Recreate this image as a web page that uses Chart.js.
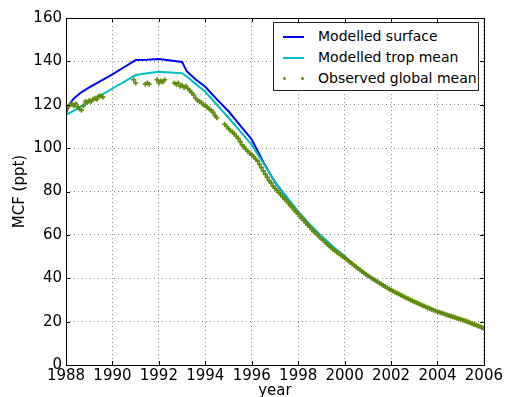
<!DOCTYPE html>
<html>
<head>
<meta charset="utf-8">
<script src="https://cdn.jsdelivr.net/npm/chart.js@4"></script>
<style>
  html, body { margin: 0; padding: 0; background: #fff; }
  #wrap { position: relative; width: 505px; height: 397px; font-family: "DejaVu Sans", sans-serif; }
  #legend { position: absolute; left: 273px; top: 22px; width: 204px; height: 67px; border: 1px solid #222; background: #fff; }
  .row { position: absolute; left: 0; height: 20px; width: 204px; }
  .sw { position: absolute; left: 9px; top: 9px; width: 21px; height: 2px; }
  .dot { position: absolute; top: 8px; width: 3px; height: 3px; border-radius: 50%; background: #5f8a0a; }
  .txt { position: absolute; left: 44px; top: 1px; font-size: 14px; color: #000; white-space: nowrap; }
</style>
</head>
<body>
<div id="wrap">
  <canvas id="chart" width="505" height="397"></canvas>
  <div id="legend">
    <div class="row" style="top:4px"><div class="sw" style="background:#0000ff"></div><div class="txt">Modelled surface</div></div>
    <div class="row" style="top:25px"><div class="sw" style="background:#00bfbf"></div><div class="txt">Modelled trop mean</div></div>
    <div class="row" style="top:46px"><div class="dot" style="left:9px"></div><div class="dot" style="left:27px"></div><div class="txt">Observed global mean</div></div>
  </div>
</div>
<script>
// model output (decimal years)
const modelYears = [1988, 1988.1, 1988.3, 1988.6, 1989, 1989.5, 1990, 1990.5, 1991, 1991.5, 1992, 1992.5,
  1993, 1993.2, 1993.6, 1994, 1994.5, 1995, 1995.5, 1996, 1996.5, 1997, 1997.5, 1998, 1998.5, 1999, 1999.5,
  2000, 2000.5, 2001, 2001.5, 2002, 2002.5, 2003, 2003.5, 2004, 2004.5, 2005, 2005.5, 2006];
const surfaceValues = [115.8, 119.5, 122.5, 125.3, 128, 131, 134, 137.3, 140.6, 140.7, 141.1, 140.4,
  139.7, 135.5, 131.5, 128.3, 122.5, 117, 110.5, 104, 93.5, 84.3, 77.3, 70.6, 64.6, 59.3, 54.3,
  50, 45.3, 41.1, 37.7, 34.6, 31.8, 29.2, 26.8, 24.6, 22.7, 21, 18.8, 16.7];
const tropValues = [115.3, 115.9, 117.1, 118.9, 121.3, 124.3, 127.5, 130.6, 133.7, 134.5, 135.2, 134.9,
  134.5, 133, 129.5, 126, 120, 114, 107.8, 101.5, 93, 84.5, 77.5, 70.8, 64.8, 59.5, 54.5,
  50.1, 45.4, 41.2, 37.8, 34.7, 31.9, 29.3, 26.9, 24.7, 22.8, 21.1, 18.9, 16.8];

// observations: month index counted from Jan 1988, value in ppt
const obsMonths = [
  0, 1, 2, 3, 4, 5, 6, 7, 8, 9, 10, 11, 12, 13, 14, 15, 16, 17, 18, 19,
  35, 36, 41, 42, 43, 47, 48, 49, 50, 51,
  56, 57, 58, 59, 60, 61, 62, 63, 64, 65, 66, 67, 68, 69, 70, 71, 72, 73, 74, 75, 76, 77, 78,
  82, 83, 84, 85, 86, 87, 88, 89, 90, 91, 92, 93, 94, 95, 96, 97, 98, 99, 100, 101, 102, 103, 104, 105, 106, 107,
  108, 109, 110, 111, 112, 113, 114, 115, 116, 117, 118, 119,
  120, 121, 122, 123, 124, 125, 126, 127, 128, 129, 130, 131,
  132, 133, 134, 135, 136, 137, 138, 139, 140, 141, 142, 143,
  144, 145, 146, 147, 148, 149, 150, 151, 152, 153, 154, 155,
  156, 157, 158, 159, 160, 161, 162, 163, 164, 165, 166, 167,
  168, 169, 170, 171, 172, 173, 174, 175, 176, 177, 178, 179,
  180, 181, 182, 183, 184, 185, 186, 187, 188, 189, 190, 191,
  192, 193, 194, 195, 196, 197, 198, 199, 200, 201, 202, 203,
  204, 205, 206, 207, 208, 209, 210, 211, 212, 213, 214, 215, 216];
const obsValues = [
  117.5, 119, 120, 120.5, 119.5, 120.5, 119, 118, 117.5, 119.5, 121.5, 121, 122, 121.5, 122.5, 123, 122.5, 124, 124, 123.5,
  131.5, 130, 129.5, 130, 129.5, 131.5, 130, 131, 130.5, 131.5,
  130, 129.5, 130, 128.5, 129, 128, 128.5, 127.5, 126.5, 125.5, 124.5, 123, 122, 121.5, 121, 120, 119.5, 119, 118, 117.5, 116.5, 115, 114,
  111, 110, 109, 108, 107.5, 106.5, 105.5, 104.5, 103, 101.5, 100.5, 99.5, 98.5, 97.5, 97, 96, 95, 94, 92.5, 91, 89.5, 88, 86.5, 85, 84, 82.5,
  81.5, 80.5, 79.5, 78.5, 77.5, 76.5, 75.5, 74.5, 73.5, 72.5, 71.5, 70.5,
  69.5, 68.5, 67.5, 66.5, 65.5, 64.5, 63.5, 62.5, 61.5, 61, 60, 59,
  58.2, 57.5, 56.5, 55.7, 55, 54.2, 53.4, 52.6, 52, 51.3, 50.6, 50,
  49.4, 48.7, 48, 47.3, 46.6, 45.9, 45.2, 44.5, 43.8, 43.1, 42.5, 41.8,
  41.2, 40.6, 40, 39.5, 39, 38.4, 37.8, 37.3, 36.7, 36.2, 35.6, 35.1,
  34.6, 34.1, 33.6, 33.2, 32.7, 32.3, 31.8, 31.4, 30.9, 30.5, 30, 29.6,
  29.2, 28.8, 28.4, 28, 27.6, 27.2, 26.8, 26.4, 26, 25.6, 25.3, 25,
  24.6, 24.3, 24, 23.7, 23.4, 23.1, 22.8, 22.5, 22.2, 21.9, 21.6, 21.3,
  21.1, 20.8, 20.5, 20.2, 19.8, 19.5, 19.1, 18.7, 18.4, 18, 17.7, 17.3, 16.9];

const xTicks = [1988, 1990, 1992, 1994, 1996, 1998, 2000, 2002, 2004, 2006];
const yTicks = [0, 20, 40, 60, 80, 100, 120, 140, 160];

const surfaceData = modelYears.map((x, i) => ({ x: x, y: surfaceValues[i] }));
const tropData = modelYears.map((x, i) => ({ x: x, y: tropValues[i] }));
const obsData = obsMonths.map((m, i) => ({ x: 1988 + m / 12, y: obsValues[i] }));

Chart.defaults.font.family = '"DejaVu Sans", sans-serif';
Chart.defaults.color = '#000';

// black frame and inward ticks like the matplotlib box
const framePlugin = {
  id: 'frame',
  afterDraw(chart) {
    const a = chart.chartArea;
    const c = chart.ctx;
    const xs = chart.scales.x;
    const ys = chart.scales.y;
    c.save();
    c.strokeStyle = '#000';
    c.lineWidth = 1;
    c.beginPath();
    xTicks.forEach((t) => {
      const px = Math.round(xs.getPixelForValue(t)) + 0.5;
      c.moveTo(px, a.bottom); c.lineTo(px, a.bottom - 4);
      c.moveTo(px, a.top); c.lineTo(px, a.top + 4);
    });
    yTicks.forEach((t) => {
      const py = Math.round(ys.getPixelForValue(t)) + 0.5;
      c.moveTo(a.left, py); c.lineTo(a.left + 4, py);
      c.moveTo(a.right, py); c.lineTo(a.right - 4, py);
    });
    c.stroke();
    c.strokeRect(Math.round(a.left) + 0.5, Math.round(a.top) + 0.5,
      Math.round(a.right - a.left), Math.round(a.bottom - a.top));
    c.restore();
  }
};

new Chart(document.getElementById('chart'), {
  type: 'line',
  data: {
    datasets: [
      {
        label: 'Observed global mean',
        data: obsData,
        showLine: false,
        pointStyle: 'cross',
        pointRadius: 2.5,
        pointBorderWidth: 1.6,
        pointBorderColor: '#5f8a0a',
        pointBackgroundColor: '#5f8a0a',
        order: 0,
      },
      {
        label: 'Modelled trop mean',
        data: tropData,
        borderColor: '#00bfbf',
        borderWidth: 2,
        pointRadius: 0,
        tension: 0,
        order: 1,
      },
      {
        label: 'Modelled surface',
        data: surfaceData,
        borderColor: '#0000ff',
        borderWidth: 2,
        pointRadius: 0,
        tension: 0,
        order: 2,
      },
    ]
  },
  options: {
    responsive: false,
    animation: false,
    layout: { padding: { left: 0, right: 21, top: 18, bottom: 0 } },
    plugins: {
      legend: { display: false },
      tooltip: { enabled: false },
    },
    scales: {
      x: {
        type: 'linear',
        min: 1988,
        max: 2006,
        afterBuildTicks: (s) => { s.ticks = xTicks.map((v) => ({ value: v })); },
        afterFit: (s) => { s.height = 32; },
        grid: { color: '#888', drawTicks: false },
        border: { display: false, dash: [1, 3] },
        ticks: {
          font: { size: 15 },
          padding: 2,
          maxRotation: 0,
          callback: (v) => String(v),
        },
        title: { display: true, text: 'year', font: { size: 15 }, padding: { top: 0, bottom: -3 } },
      },
      y: {
        min: 0,
        max: 160,
        afterBuildTicks: (s) => { s.ticks = yTicks.map((v) => ({ value: v })); },
        afterFit: (s) => { s.width = 66; },
        grid: { color: '#888', drawTicks: false },
        border: { display: false, dash: [1, 3] },
        ticks: { font: { size: 15 }, padding: 4 },
        title: { display: true, text: 'MCF (ppt)', font: { size: 15 }, padding: { top: 11, bottom: 0 } },
      },
    },
  },
  plugins: [framePlugin],
});
</script>
</body>
</html>
